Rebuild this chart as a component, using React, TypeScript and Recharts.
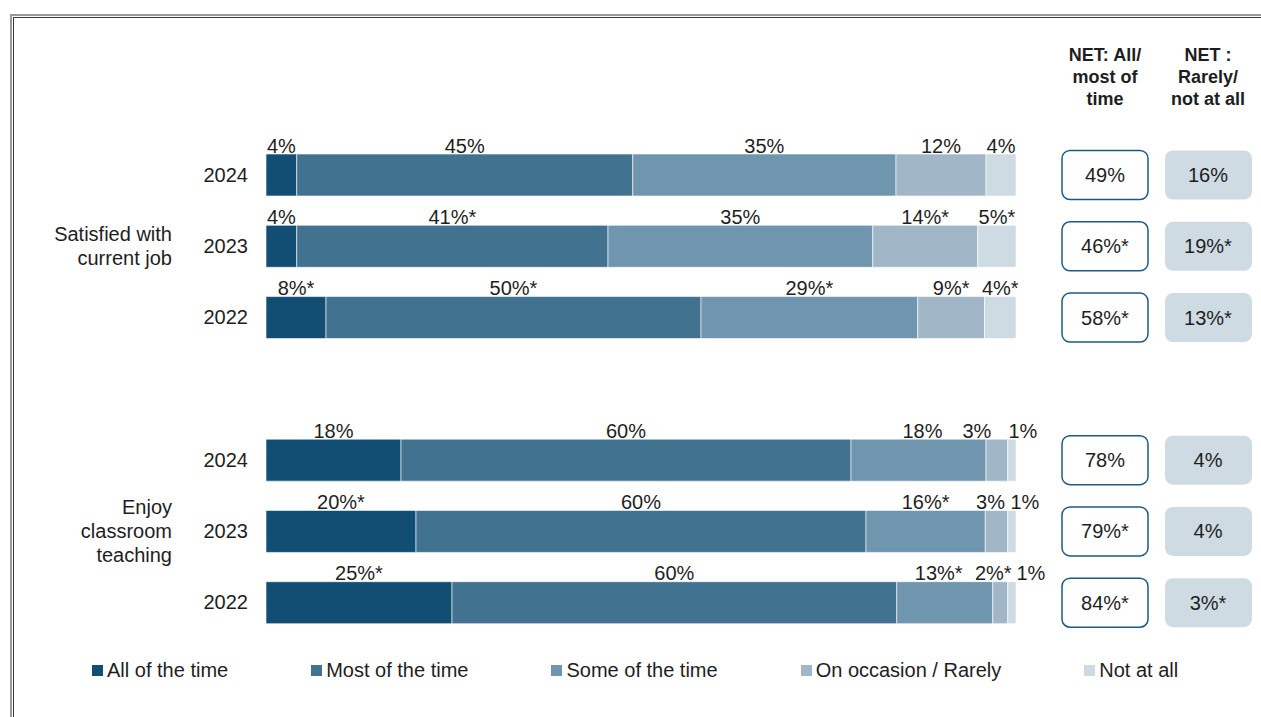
import { BarChart, Bar, XAxis, YAxis, Legend, LabelList } from "recharts";

const FONT = "'Liberation Sans', Arial, sans-serif";
const TEXT = "#1e1e1e";

// one row per bar, row 3 is the gap between the two questions
const yearLabels = ["2024", "2023", "2022", "", "2024", "2023", "2022"];
const groupLabels: (string[] | null)[] = [
  null,
  ["Satisfied with", "current job"],
  null,
  null,
  null,
  ["Enjoy", "classroom", "teaching"],
  null,
];

const allOfTime = [4.1, 4.1, 8, null, 18, 20, 24.8];
const mostOfTime = [44.8, 41.5, 50, null, 60, 60, 59.3];
const someOfTime = [35.1, 35.3, 28.9, null, 18, 15.9, 12.8];
const rarely = [12, 14, 8.9, null, 2.9, 3, 2];
const notAtAll = [4, 5.1, 4.2, null, 1.1, 1.1, 1.1];

const allLabels = ["4%", "4%", "8%*", "", "18%", "20%*", "25%*"];
const mostLabels = ["45%", "41%*", "50%*", "", "60%", "60%", "60%"];
const someLabels = ["35%", "35%", "29%*", "", "18%", "16%*", "13%*"];
const rarelyLabels = ["12%", "14%*", "9%*", "", "3%", "3%", "2%*"];
const notLabels = ["4%", "5%*", "4%*", "", "1%", "1%", "1%"];

const netAllMost = ["49%", "46%*", "58%*", "", "78%", "79%*", "84%*"];
const netRarely = ["16%", "19%*", "13%*", "", "4%", "4%", "3%*"];

// small horizontal shifts so the narrow labels don't collide
const labelNudge: Record<string, number[]> = {
  some: [0, 0, 0, 0, 4, 0, -6],
  rarely: [0, 0, 0, 0, -20, -6, -7],
  not: [0, 0, 0, 0, 11, 13, 19],
};

const series = [
  { key: "all", labels: allLabels, name: "All of the time", color: "#124e74" },
  { key: "most", labels: mostLabels, name: "Most of the time", color: "#41728f" },
  { key: "some", labels: someLabels, name: "Some of the time", color: "#7095ae" },
  { key: "rarely", labels: rarelyLabels, name: "On occasion / Rarely", color: "#a1b7c7" },
  { key: "not", labels: notLabels, name: "Not at all", color: "#cfdbe3" },
];

const rows = yearLabels.map((year, i) => ({
  key: `r${i}`,
  idx: i,
  year,
  all: allOfTime[i],
  most: mostOfTime[i],
  some: someOfTime[i],
  rarely: rarely[i],
  not: notAtAll[i],
}));

function box(props: any) {
  const vb = props.viewBox ?? props;
  const x = vb.x ?? props.x;
  const y = vb.y ?? props.y;
  const width = vb.width ?? props.width;
  const height = vb.height ?? props.height;
  return { x: Number(x), y: Number(y), width: Number(width), height: Number(height) };
}

function makeLabel(seriesKey: string, labels: string[]) {
  return (props: any) => {
    const i = Number(props.value);
    const text = labels[i];
    if (!text) return null;
    const b = box(props);
    const dx = labelNudge[seriesKey]?.[i] ?? 0;
    return (
      <text
        x={b.x + b.width / 2 + dx}
        y={b.y - 1.5}
        textAnchor="middle"
        fontSize={20}
        fontFamily={FONT}
        fill={TEXT}
      >
        {text}
      </text>
    );
  };
}

function NetBoxes(props: any) {
  const i = Number(props.value);
  if (!netAllMost[i]) return null;
  const b = box(props);
  const cy = b.y + b.height / 2;
  return (
    <g>
      <rect x={1062} y={cy - 24.5} width={86} height={49} rx={8} fill="#fff" stroke="#1c5a82" strokeWidth={1.5} />
      <text x={1105} y={cy} dy="0.35em" textAnchor="middle" fontSize={20} fontFamily={FONT} fill={TEXT}>
        {netAllMost[i]}
      </text>
      <rect x={1165} y={cy - 24.5} width={87} height={49} rx={8} fill="#cfdbe3" />
      <text x={1208} y={cy} dy="0.35em" textAnchor="middle" fontSize={20} fontFamily={FONT} fill={TEXT}>
        {netRarely[i]}
      </text>
    </g>
  );
}

function YearTick(props: any) {
  const { x, y, payload } = props;
  const i = Number(String(payload.value).slice(1));
  const group = groupLabels[i];
  return (
    <g>
      <text x={x} y={y} dy="0.35em" textAnchor="end" fontSize={20} fontFamily={FONT} fill={TEXT}>
        {yearLabels[i]}
      </text>
      {group && (
        <text x={172} y={y - ((group.length - 1) * 24) / 2} textAnchor="end" fontSize={20} fontFamily={FONT} fill={TEXT}>
          {group.map((line, k) => (
            <tspan key={k} x={172} dy={k === 0 ? "0.35em" : 24}>
              {line}
            </tspan>
          ))}
        </text>
      )}
    </g>
  );
}

function LegendContent() {
  return (
    <div style={{ display: "flex", gap: 83, fontFamily: FONT, fontSize: 20, color: TEXT, lineHeight: "24px" }}>
      {series.map((s) => (
        <div key={s.key} style={{ display: "flex", alignItems: "center", whiteSpace: "nowrap" }}>
          <span style={{ width: 11, height: 11, background: s.color, marginRight: 4, display: "inline-block" }} />
          <span>{s.name}</span>
        </div>
      ))}
    </div>
  );
}

const headerStyle: React.CSSProperties = {
  position: "absolute",
  top: 44,
  width: 110,
  textAlign: "center",
  fontFamily: FONT,
  fontWeight: "bold",
  fontSize: 18,
  lineHeight: "22px",
  color: TEXT,
};

export default function App() {
  return (
    <div style={{ position: "absolute", left: 0, top: 0, width: 1261, height: 717, overflow: "hidden", background: "#fff" }}>
      <div style={{ position: "absolute", left: 10, top: 14, width: 1400, height: 800, border: "2px solid #9a9a9a" }} />
      <div style={{ position: "absolute", left: 13, top: 17, width: 1400, height: 800, border: "1px solid #3a3a3a" }} />
      <div style={{ ...headerStyle, left: 1050 }}>
        NET: All/
        <br />
        most of
        <br />
        time
      </div>
      <div style={{ ...headerStyle, left: 1153 }}>
        NET :
        <br />
        Rarely/
        <br />
        not at all
      </div>
      <BarChart
        width={1261}
        height={717}
        data={rows}
        layout="vertical"
        margin={{ top: 139, right: 245, bottom: 79, left: 0 }}
        style={{ position: "absolute", left: 0, top: 0 }}
      >
        <XAxis type="number" domain={[0, 100]} hide />
        <YAxis
          type="category"
          dataKey="key"
          width={266}
          axisLine={false}
          tickLine={false}
          tickSize={0}
          tickMargin={18}
          tick={<YearTick />}
          interval={0}
        />
        <Legend
          layout="horizontal"
          verticalAlign="middle"
          align="center"
          content={<LegendContent />}
          wrapperStyle={{ left: 92, top: 658, width: "auto" }}
        />
        {series.map((s) => (
          <Bar
            key={s.key}
            dataKey={s.key}
            name={s.name}
            stackId="a"
            fill={s.color}
            stroke="#ffffff"
            strokeWidth={0.6}
            barSize={42}
            isAnimationActive={false}
          >
            <LabelList dataKey="idx" content={makeLabel(s.key, s.labels)} />
            {s.key === "not" && <LabelList dataKey="idx" content={NetBoxes} />}
          </Bar>
        ))}
      </BarChart>
    </div>
  );
}
